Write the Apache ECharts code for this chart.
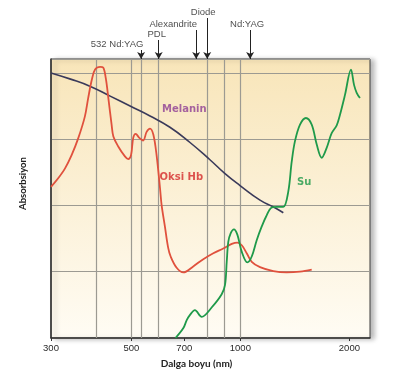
<!DOCTYPE html>
<html><head><meta charset="utf-8">
<script src="https://cdn.jsdelivr.net/npm/echarts@6.0.0/dist/echarts.min.js"></script>
<style>html,body{margin:0;padding:0;background:#fff}#c{width:400px;height:384px}</style>
</head><body><div id="c"></div>
<script>
// ---- data ----
const xTickLabels = [300, 500, 700, 1000, 2000];
const gridLineWl = [400, 500, 532, 595, 810, 900, 1000];

const laserNames = ['532 Nd:YAG', 'PDL', 'Alexandrite', 'Diode', 'Nd:YAG'];
const laserWl = [532, 595, 755, 810, 1064];

const seriesNames = ['Melanin', 'Oksi Hb', 'Su'];

const melaninWl  = [300, 338, 384, 437, 496, 563, 639, 726, 824, 907, 998, 1133, 1231, 1314];
const melaninAbs = [4.00, 3.91, 3.80, 3.65, 3.50, 3.35, 3.18, 2.95, 2.69, 2.48, 2.30, 2.08, 1.98, 1.89];

const oxyHbWl  = [300, 314, 328, 342, 357, 372, 380, 389, 397, 410, 418, 425, 432, 441, 446, 460, 480, 490, 499, 506, 514, 526, 539, 551, 563, 575, 587, 600, 606, 619, 632, 642, 667, 696, 741, 790, 842, 897, 947, 981, 1009, 1041, 1075, 1133, 1233, 1342, 1461, 1574];
const oxyHbAbs = [2.28, 2.41, 2.56, 2.76, 3.02, 3.34, 3.62, 3.90, 4.05, 4.09, 4.08, 3.92, 3.62, 3.22, 3.04, 2.89, 2.74, 2.70, 2.76, 3.02, 3.08, 3.02, 2.98, 3.11, 3.16, 3.07, 2.76, 2.26, 2.01, 1.68, 1.36, 1.23, 1.06, 0.99, 1.08, 1.19, 1.28, 1.35, 1.42, 1.44, 1.40, 1.28, 1.15, 1.07, 1.01, 0.99, 1.00, 1.03];

const waterWl  = [662, 696, 711, 726, 749, 782, 833, 888, 907, 917, 926, 940, 960, 981, 1009, 1045, 1075, 1110, 1145, 1177, 1220, 1260, 1314, 1356, 1386, 1415, 1461, 1517, 1574, 1625, 1677, 1731, 1787, 1845, 1884, 1945, 2020, 2060, 2095, 2139];
const waterAbs = [0.00, 0.15, 0.27, 0.35, 0.42, 0.32, 0.46, 0.66, 0.80, 1.15, 1.45, 1.58, 1.64, 1.56, 1.30, 1.14, 1.23, 1.48, 1.68, 1.83, 1.97, 1.98, 1.98, 2.21, 2.66, 2.97, 3.22, 3.32, 3.22, 2.92, 2.72, 2.87, 3.09, 3.21, 3.37, 3.67, 4.05, 3.82, 3.70, 3.62];

// curve label anchors (wavelength, absorbance)
const nameAnchorWl  = [700, 687, 1500];
const nameAnchorAbs = [3.45, 2.43, 2.35];

// ---- layout / style ----
const laserTier = [9, 19, 29, 41, 29];         // arrow start height in the strip above the plot
const laserLabelDx = [-24, -2, -23, -4, -3];
const colors = ['#3a3a5a', '#e0513d', '#1f9a4a'];
const labelColors = ['#8e3f95', '#d42a2a', '#1f9a4a'];
const X_MIN = 300, X_MAX = 2280;

const zip = (a, b) => a.map((v, i) => [v, b[i]]);

const chart = echarts.init(document.getElementById('c'), null, {renderer: 'canvas'});

const curveSeries = [
  [melaninWl, melaninAbs, 1.6, 0.5],
  [oxyHbWl, oxyHbAbs, 1.8, 0.35],
  [waterWl, waterAbs, 1.8, 0.35]
].map((d, i) => ({
  type: 'line', name: seriesNames[i], xAxisIndex: 0, yAxisIndex: 0,
  data: zip(d[0], d[1]), smooth: d[3], showSymbol: false, z: 5,
  lineStyle: {color: colors[i], width: d[2]}, itemStyle: {color: colors[i]}
}));

const option = {
  animation: false,
  grid: [
    {left: 51, right: 30, top: 59, bottom: 46, show: true,
     backgroundColor: {type: 'linear', x: 0, y: 0, x2: 0, y2: 1,
       colorStops: [{offset: 0, color: '#f8e5b9'}, {offset: 1, color: '#fffcf4'}]},
     borderColor: '#3c3c3c', borderWidth: 1,
     shadowColor: 'rgba(0,0,0,0.28)', shadowBlur: 5, shadowOffsetX: 4, shadowOffsetY: 1},
    {left: 51, right: 30, top: 0, height: 59, show: false}
  ],
  xAxis: [
    {type: 'log', gridIndex: 0, min: X_MIN, max: X_MAX,
     axisLine: {show: true, lineStyle: {color: '#333', width: 1.5}},
     axisTick: {show: true, customValues: xTickLabels, length: 3, lineStyle: {color: '#333'}},
     axisLabel: {show: true, customValues: xTickLabels, color: '#2a2a2a', fontSize: 9.5,
       fontFamily: 'Liberation Sans, Arial, sans-serif', margin: 5,
       formatter: v => String(Math.round(v))},
     splitLine: {show: false}, minorTick: {show: false}, minorSplitLine: {show: false},
     name: 'Dalga boyu (nm)', nameLocation: 'middle', nameGap: 21,
     nameTextStyle: {fontFamily: 'Lato, sans-serif', fontWeight: 'bold', fontSize: 10, color: '#222', padding: [0, 28, 0, 0]}},
    {type: 'log', gridIndex: 1, min: X_MIN, max: X_MAX, show: false}
  ],
  yAxis: [
    {type: 'value', gridIndex: 0, min: 0, max: 4.21, interval: 1,
     axisLine: {show: true, lineStyle: {color: '#333', width: 1.5}},
     axisTick: {show: false}, axisLabel: {show: false},
     splitLine: {show: true, lineStyle: {color: '#9c9a92', width: 1.2}},
     name: 'Absorbsiyon', nameLocation: 'middle', nameGap: 23,
     nameTextStyle: {fontFamily: 'Lato, sans-serif', fontWeight: 'bold', fontSize: 9.5, color: '#222', padding: [0, 0, 0, 30]}},
    {type: 'value', gridIndex: 1, min: 0, max: 59, show: false}
  ],
  series: [
    // vertical reference lines
    {type: 'line', xAxisIndex: 0, yAxisIndex: 0, data: [], z: 1, silent: true,
     markLine: {silent: true, symbol: ['none', 'none'], label: {show: false},
       lineStyle: {color: '#9c9a92', width: 1.2, type: 'solid'},
       data: gridLineWl.map(w => ({xAxis: w}))}},
    ...curveSeries,
    // curve names
    {type: 'scatter', xAxisIndex: 0, yAxisIndex: 0, symbolSize: 0, z: 6, silent: true,
     data: seriesNames.map((n, i) => ({value: [nameAnchorWl[i], nameAnchorAbs[i]],
       label: {show: true, position: 'inside', formatter: n, color: labelColors[i],
         fontFamily: 'DejaVu Sans, sans-serif', fontWeight: 'bold', fontSize: 10}}))},
    // laser annotations above the plot
    {type: 'scatter', xAxisIndex: 1, yAxisIndex: 1, symbolSize: 0, silent: true,
     data: laserNames.map((n, i) => ({value: [laserWl[i], laserTier[i]],
       label: {show: true, position: 'top', distance: 1, formatter: n, offset: [laserLabelDx[i], 0],
         color: '#222', fontFamily: 'Liberation Sans, Arial, sans-serif', fontSize: 9.5}})),
     markLine: {silent: true, symbol: ['none', 'arrow'], symbolSize: [6, 7], label: {show: false},
       lineStyle: {color: '#222', width: 1, type: 'solid'},
       data: laserWl.map((w, i) => [{coord: [w, laserTier[i]]}, {coord: [w, 0]}])}}
  ]
};
chart.setOption(option);
</script>
</body></html>
